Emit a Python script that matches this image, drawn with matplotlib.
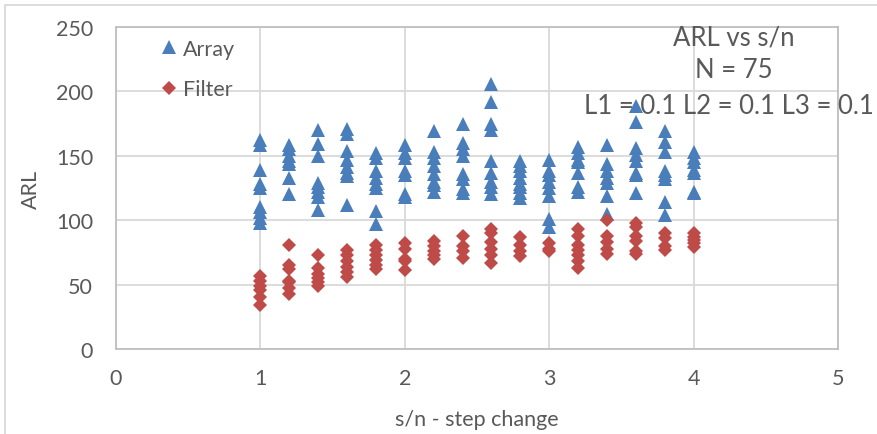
import matplotlib
matplotlib.use("Agg")
import matplotlib.pyplot as plt
from matplotlib.patches import Rectangle

# step change (s/n) values
steps = [1.0, 1.2, 1.4, 1.6, 1.8, 2.0, 2.2, 2.4, 2.6, 2.8, 3.0, 3.2, 3.4, 3.6, 3.8, 4.0]

# ARL for the array chart at each step
array_arl = [
    [162, 158, 139, 128, 125, 110, 106, 102, 98],
    [158, 155, 150, 146, 144, 133, 120],
    [170, 159, 150, 129, 126, 122, 118, 108],
    [171, 167, 154, 147, 141, 137, 134, 112],
    [152, 148, 138, 133, 128, 125, 107, 97],
    [158, 152, 148, 138, 135, 120, 118],
    [169, 153, 148, 142, 136, 130, 127, 122],
    [175, 160, 155, 150, 136, 132, 124, 121],
    [206, 192, 175, 170, 146, 137, 130, 126, 120],
    [146, 142, 138, 133, 128, 126, 121, 117],
    [147, 138, 135, 130, 125, 119, 101, 95],
    [157, 152, 147, 145, 137, 126, 122],
    [158, 144, 138, 133, 129, 119, 105],
    [189, 176, 156, 151, 146, 137, 135, 121],
    [169, 161, 153, 138, 135, 132, 114, 104],
    [153, 148, 145, 139, 137, 122, 121],
]

# ARL for the filter chart at each step
filter_arl = [
    [57, 53, 49, 46, 40, 34],
    [81, 65, 62, 53, 52, 47, 43],
    [73, 63, 58, 55, 52, 49],
    [77, 73, 68, 64, 60, 56],
    [81, 77, 73, 69, 65, 62],
    [82, 78, 70, 68, 61],
    [84, 80, 76, 73, 70],
    [88, 80, 76, 71],
    [93, 90, 83, 78, 73, 67],
    [87, 81, 76, 72],
    [82, 78, 76],
    [93, 88, 81, 77, 73, 68, 63],
    [100, 88, 83, 78, 74],
    [98, 95, 88, 84, 76, 74],
    [90, 86, 80, 77],
    [90, 87, 85, 82, 79],
]

x_ticks = [0, 1, 2, 3, 4, 5]
y_ticks = [0, 50, 100, 150, 200, 250]

TEXT = "#595959"
FS = 15.5
plt.rcParams["font.family"] = ["Lato", "DejaVu Sans"]


def flatten(groups):
    xs, ys = [], []
    for x, vals in zip(steps, groups):
        for v in vals:
            xs.append(x)
            ys.append(v)
    return xs, ys


fig = plt.figure(figsize=(8.77, 4.35), dpi=100)
ax = fig.add_axes([116 / 877, 1 - 350 / 435, 722 / 877, 322 / 435])

ax_x, ax_y = flatten(array_arl)
fx, fy = flatten(filter_arl)
ax.plot(ax_x, ax_y, linestyle="none", marker="^", markersize=10,
        color="#4a7ebb", markeredgewidth=0, label="Array", zorder=3)
ax.plot(fx, fy, linestyle="none", marker="D", markersize=7,
        color="#be4b48", markeredgewidth=0, label="Filter", zorder=3)

ax.set_xlim(0, 5)
ax.set_ylim(0, 250)
ax.set_xticks(x_ticks)
ax.set_yticks(y_ticks)
ax.grid(True, color="#d9d9d9", linewidth=1.3)
ax.set_axisbelow(True)
for s in ax.spines.values():
    s.set_color("#bfbfbf")
    s.set_linewidth(1.3)
ax.tick_params(length=0, labelsize=FS, colors=TEXT)
ax.tick_params(axis="y", pad=16.5)
ax.tick_params(axis="x", pad=14)

ax.set_xlabel("s/n - step change", fontsize=FS, color=TEXT, labelpad=15)
ax.set_ylabel("ARL", fontsize=FS, color=TEXT, labelpad=11)

leg = ax.legend(loc="upper left", bbox_to_anchor=(0.047, 0.99), frameon=False,
                fontsize=FS, labelspacing=0.95, handletextpad=0.15,
                handlelength=1.0, borderaxespad=0)
for t in leg.get_texts():
    t.set_color(TEXT)

# three-line chart title in the upper right
fig.text(734 / 877, 1 - 38 / 435, "ARL vs s/n", ha="center", va="center",
         fontsize=18.5, color=TEXT)
fig.text(734 / 877, 1 - 70 / 435, "N = 75", ha="center", va="center",
         fontsize=18.5, color=TEXT)
fig.text(874 / 877, 1 - 106 / 435, "L1 = 0.1 L2 = 0.1 L3 = 0.1", ha="right",
         va="center", fontsize=18.5, color=TEXT)

# outer chart border
fig.patches.append(Rectangle((5 / 877, -0.01), 1.0, 1 - 6 / 435 + 0.01,
                             transform=fig.transFigure, fill=False,
                             edgecolor="#d9d9d9", linewidth=1.3))

fig.savefig("out.png", dpi=100)
